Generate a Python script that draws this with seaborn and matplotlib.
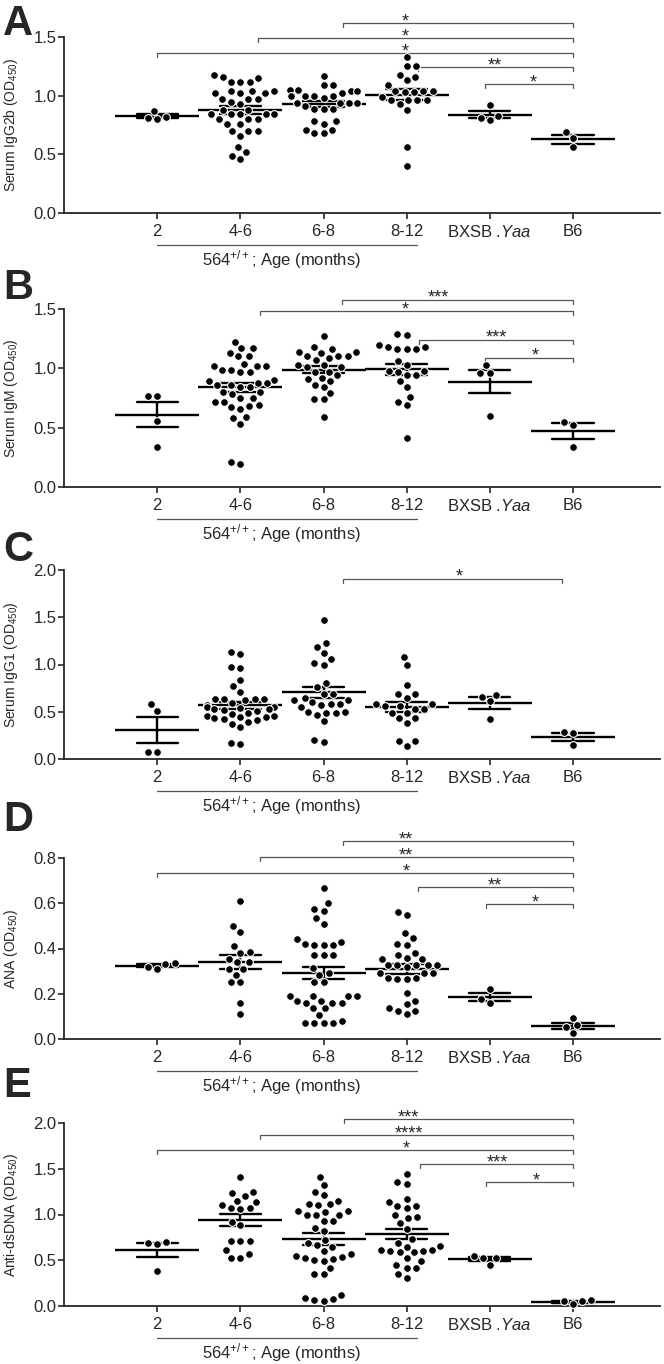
import warnings
warnings.filterwarnings("ignore")
import numpy as np
import pandas as pd
import matplotlib
matplotlib.use("Agg")
import matplotlib.pyplot as plt
import seaborn as sns
from matplotlib.transforms import blended_transform_factory

# ---------------- data ----------------
categories = ["2", "4-6", "6-8", "8-12", "BXSB .Yaa", "B6"]
tick_labels = ["2", "4-6", "6-8", "8-12", r"BXSB .$\mathit{Yaa}$", "B6"]
group_label = r"564$^{+/+}$; Age (months)"

# Panel A: Serum IgG2b
a_2 = [0.82, 0.80, 0.81, 0.87]
a_46 = [1.18, 1.16, 1.15, 1.12, 1.12, 1.12, 1.04, 1.04, 1.04, 1.02, 1.02, 1.02,
        0.97, 0.97, 0.97, 0.95, 0.93, 0.88, 0.88, 0.84, 0.84, 0.84, 0.84, 0.84,
        0.80, 0.80, 0.80, 0.76, 0.76, 0.70, 0.70, 0.70, 0.66, 0.56, 0.52, 0.49, 0.46]
a_68 = [1.17, 1.09, 1.09, 1.05, 1.05, 1.04, 1.04, 1.02, 1.00, 1.00, 1.00, 1.00,
        0.98, 0.94, 0.94, 0.94, 0.94, 0.91, 0.89, 0.89, 0.89, 0.78, 0.78, 0.76,
        0.71, 0.71, 0.68, 0.68]
a_812 = [1.33, 1.25, 1.25, 1.18, 1.16, 1.13, 1.09, 1.04, 1.04, 1.04, 1.03, 1.03,
         0.99, 0.96, 0.96, 0.96, 0.96, 0.93, 0.88, 0.56, 0.40]
a_bx = [0.92, 0.83, 0.79, 0.81]
a_b6 = [0.69, 0.64, 0.56]

# Panel B: Serum IgM
b_2 = [0.77, 0.77, 0.56, 0.34]
b_46 = [1.22, 1.17, 1.17, 1.13, 1.10, 1.10, 1.04, 1.02, 1.02, 1.02, 0.99, 0.99,
        0.97, 0.97, 0.90, 0.89, 0.88, 0.88, 0.86, 0.86, 0.84, 0.84, 0.80, 0.80,
        0.78, 0.75, 0.75, 0.72, 0.72, 0.69, 0.68, 0.67, 0.66, 0.59, 0.58, 0.53,
        0.19, 0.21]
b_68 = [1.27, 1.18, 1.16, 1.14, 1.14, 1.13, 1.10, 1.10, 1.10, 1.09, 1.07, 1.03,
        1.03, 1.01, 1.01, 0.97, 0.97, 0.94, 0.92, 0.91, 0.89, 0.86, 0.84, 0.79,
        0.74, 0.74, 0.59]
b_812 = [1.29, 1.28, 1.20, 1.18, 1.18, 1.16, 1.16, 1.16, 1.06, 1.03, 0.98, 0.98,
         0.97, 0.94, 0.94, 0.89, 0.84, 0.76, 0.72, 0.69, 0.41]
b_bx = [1.03, 0.96, 0.96, 0.60]
b_b6 = [0.55, 0.52, 0.34]

# Panel C: Serum IgG1
c_2 = [0.58, 0.51, 0.07, 0.07]
c_46 = [1.13, 1.11, 0.97, 0.96, 0.84, 0.77, 0.71, 0.64, 0.64, 0.63, 0.63, 0.62,
        0.59, 0.57, 0.55, 0.55, 0.54, 0.53, 0.53, 0.52, 0.51, 0.49, 0.48, 0.45,
        0.45, 0.44, 0.44, 0.43, 0.42, 0.41, 0.39, 0.37, 0.34, 0.16, 0.17]
c_68 = [1.47, 1.23, 1.19, 1.12, 1.06, 1.02, 1.00, 0.80, 0.76, 0.69, 0.69, 0.65,
        0.62, 0.62, 0.60, 0.58, 0.58, 0.57, 0.55, 0.50, 0.50, 0.49, 0.49, 0.47,
        0.40, 0.18, 0.20]
c_812 = [1.08, 0.99, 0.78, 0.69, 0.69, 0.65, 0.58, 0.58, 0.56, 0.56, 0.53, 0.53,
         0.49, 0.49, 0.43, 0.43, 0.38, 0.19, 0.19, 0.14]
c_bx = [0.66, 0.68, 0.61, 0.42]
c_b6 = [0.29, 0.27, 0.15]

# Panel D: ANA
d_2 = [0.33, 0.31, 0.32, 0.335]
d_46 = [0.61, 0.50, 0.475, 0.41, 0.385, 0.38, 0.355, 0.34, 0.34, 0.31, 0.31,
        0.285, 0.25, 0.25, 0.16, 0.11]
d_68 = [0.667, 0.60, 0.575, 0.565, 0.535, 0.51, 0.44, 0.43, 0.42, 0.415, 0.415,
        0.415, 0.37, 0.37, 0.37, 0.315, 0.29, 0.285, 0.25, 0.25, 0.19, 0.19,
        0.19, 0.19, 0.17, 0.17, 0.16, 0.16, 0.16, 0.135, 0.135, 0.105, 0.08,
        0.07, 0.07, 0.07, 0.07]
d_812 = [0.56, 0.55, 0.47, 0.445, 0.42, 0.415, 0.38, 0.37, 0.36, 0.355, 0.355,
         0.325, 0.325, 0.325, 0.325, 0.325, 0.32, 0.29, 0.29, 0.29, 0.27, 0.27,
         0.265, 0.265, 0.205, 0.17, 0.155, 0.135, 0.125, 0.125, 0.11]
d_bx = [0.22, 0.175, 0.16]
d_b6 = [0.095, 0.06, 0.053, 0.026]

# Panel E: Anti-dsDNA
e_2 = [0.68, 0.69, 0.70, 0.385]
e_46 = [1.41, 1.25, 1.23, 1.20, 1.15, 1.14, 1.10, 1.07, 1.07, 1.06, 0.92, 0.88,
        0.715, 0.715, 0.715, 0.61, 0.57, 0.53, 0.53]
e_68 = [1.41, 1.32, 1.25, 1.21, 1.15, 1.11, 1.11, 1.10, 1.04, 1.04, 1.03, 1.00,
        1.00, 0.99, 0.93, 0.93, 0.85, 0.82, 0.72, 0.69, 0.67, 0.65, 0.57, 0.54,
        0.51, 0.49, 0.50, 0.52, 0.55, 0.60, 0.42, 0.35, 0.35, 0.12, 0.08, 0.06,
        0.07, 0.09]
e_812 = [1.44, 1.33, 1.35, 1.17, 1.14, 1.09, 1.09, 1.07, 0.99, 0.96, 0.97, 0.91,
         0.84, 0.69, 0.73, 0.66, 0.61, 0.60, 0.585, 0.585, 0.60, 0.61, 0.65, 0.52,
         0.49, 0.45, 0.41, 0.41, 0.355, 0.31]
e_bx = [0.55, 0.52, 0.52, 0.45]
e_b6 = [0.055, 0.05, 0.065, 0.02]

panel_letters = ["A", "B", "C", "D", "E"]
y_labels = ["Serum IgG2b (OD$_{450}$)", "Serum IgM (OD$_{450}$)",
            "Serum IgG1 (OD$_{450}$)", "ANA (OD$_{450}$)",
            "Anti-dsDNA (OD$_{450}$)"]
y_ticks = [[0.0, 0.5, 1.0, 1.5], [0.0, 0.5, 1.0, 1.5],
           [0.0, 0.5, 1.0, 1.5, 2.0], [0.0, 0.2, 0.4, 0.6, 0.8],
           [0.0, 0.5, 1.0, 1.5, 2.0]]
panel_groups = [
    [a_2, a_46, a_68, a_812, a_bx, a_b6],
    [b_2, b_46, b_68, b_812, b_bx, b_b6],
    [c_2, c_46, c_68, c_812, c_bx, c_b6],
    [d_2, d_46, d_68, d_812, d_bx, d_b6],
    [e_2, e_46, e_68, e_812, e_bx, e_b6],
]
# significance brackets: (start, end, height, label, label x)
brackets = [
    [(2.23, 5.0, 1.62, "*", 2.98), (1.21, 5.0, 1.49, "*", 2.98),
     (0.0, 5.0, 1.36, "*", 2.98), (3.14, 5.0, 1.245, "**", 4.06),
     (3.94, 5.0, 1.10, "*", 4.52)],
    [(2.22, 5.0, 1.58, "***", 3.38), (1.23, 5.0, 1.48, "*", 2.98),
     (3.15, 5.0, 1.24, "***", 4.08), (3.94, 5.0, 1.09, "*", 4.55)],
    [(2.24, 4.87, 1.91, "*", 3.63)],
    [(2.23, 5.0, 0.875, "**", 2.99), (1.24, 5.0, 0.803, "**", 2.99),
     (0.0, 5.0, 0.732, "*", 2.99), (3.14, 5.0, 0.672, "**", 4.06),
     (3.95, 5.0, 0.596, "*", 4.55)],
    [(2.25, 5.0, 2.04, "***", 3.02), (1.24, 5.0, 1.87, "****", 3.03),
     (0.0, 5.0, 1.70, "*", 3.0), (3.16, 5.0, 1.55, "***", 4.09),
     (3.96, 5.0, 1.35, "*", 4.56)],
]

# ---------------- layout (pixels) ----------------
W, H = 664, 1364
ax_left, ax_right = 64, 660
axes_top_bottom = [(37, 213), (309, 487), (570, 759), (858, 1039), (1123, 1306)]
letter_tops = [4, 268, 530, 800, 1066]
cat_x0, cat_dx = 157.3, 83.1

sns.set_style("ticks")
plt.rcParams["font.family"] = ["Liberation Sans", "DejaVu Sans"]
plt.rcParams["mathtext.fontset"] = "custom"
plt.rcParams["mathtext.rm"] = "Liberation Sans"
plt.rcParams["mathtext.it"] = "Liberation Sans:italic"
plt.rcParams["mathtext.bf"] = "Liberation Sans:bold"

fig = plt.figure(figsize=(W / 100, H / 100), dpi=100)

for i in range(5):
    top, bot = axes_top_bottom[i]
    ax = fig.add_axes([ax_left / W, 1 - bot / H, (ax_right - ax_left) / W, (bot - top) / H])
    groups = panel_groups[i]
    df = pd.DataFrame({
        "group": np.concatenate([[c] * len(g) for c, g in zip(categories, groups)]),
        "value": np.concatenate([np.asarray(g, float) for g in groups]),
    })
    sns.swarmplot(data=df, x="group", y="value", order=categories, color="black",
                  size=5.6, linewidth=0.8, edgecolor="white", ax=ax, clip_on=False)
    sns.pointplot(data=df, x="group", y="value", order=categories, errorbar="se",
                  capsize=0.5, color="black", markers="_", markersize=60,
                  markeredgewidth=1.7, linestyle="none",
                  err_kws={"linewidth": 1.7, "color": "black"}, ax=ax)
    ymax = y_ticks[i][-1]
    ax.set_xlim((ax_left - cat_x0) / cat_dx, (ax_right - cat_x0) / cat_dx)
    ax.set_ylim(0, ymax)
    ax.set_yticks(y_ticks[i])
    ax.set_yticklabels([f"{v:.1f}" for v in y_ticks[i]], fontsize=12)
    ax.set_xticks(range(len(categories)))
    ax.set_xticklabels(tick_labels, fontsize=12)
    ax.set_xlabel("")
    ax.set_ylabel(y_labels[i], fontsize=10)
    ax.yaxis.set_label_coords((20 - ax_left) / (ax_right - ax_left), 0.5)
    for s in ["top", "right"]:
        ax.spines[s].set_visible(False)
    for s in ["left", "bottom"]:
        ax.spines[s].set_linewidth(1.3)
    ax.tick_params(axis="x", length=4, width=1.2, pad=4)
    ax.tick_params(axis="y", length=4, width=1.2, pad=1.5)

    px_per_unit = (bot - top) / ymax
    drop = 4 / px_per_unit
    for (x0, x1, h, lab, lx) in brackets[i]:
        ax.plot([x0, x0, x1, x1], [h - drop, h, h, h - drop], color="#555555",
                lw=0.9, clip_on=False)
        ax.annotate(lab, xy=(lx, h), xytext=(0, 1), textcoords="offset points",
                    ha="center", va="center", fontsize=13, annotation_clip=False)

    tr = blended_transform_factory(ax.transData, ax.transAxes)
    ax_h = bot - top
    ax.plot([0, 3.12], [-32 / ax_h] * 2, color="#555555", lw=0.9,
            transform=tr, clip_on=False)
    ax.text(1.5, -52 / ax_h, group_label, transform=tr, ha="center",
            va="baseline", fontsize=12)

    fig.text(3 / W, 1 - letter_tops[i] / H, panel_letters[i], fontsize=30,
             fontweight="bold", ha="left", va="top")

fig.savefig("out.png", dpi=100)
